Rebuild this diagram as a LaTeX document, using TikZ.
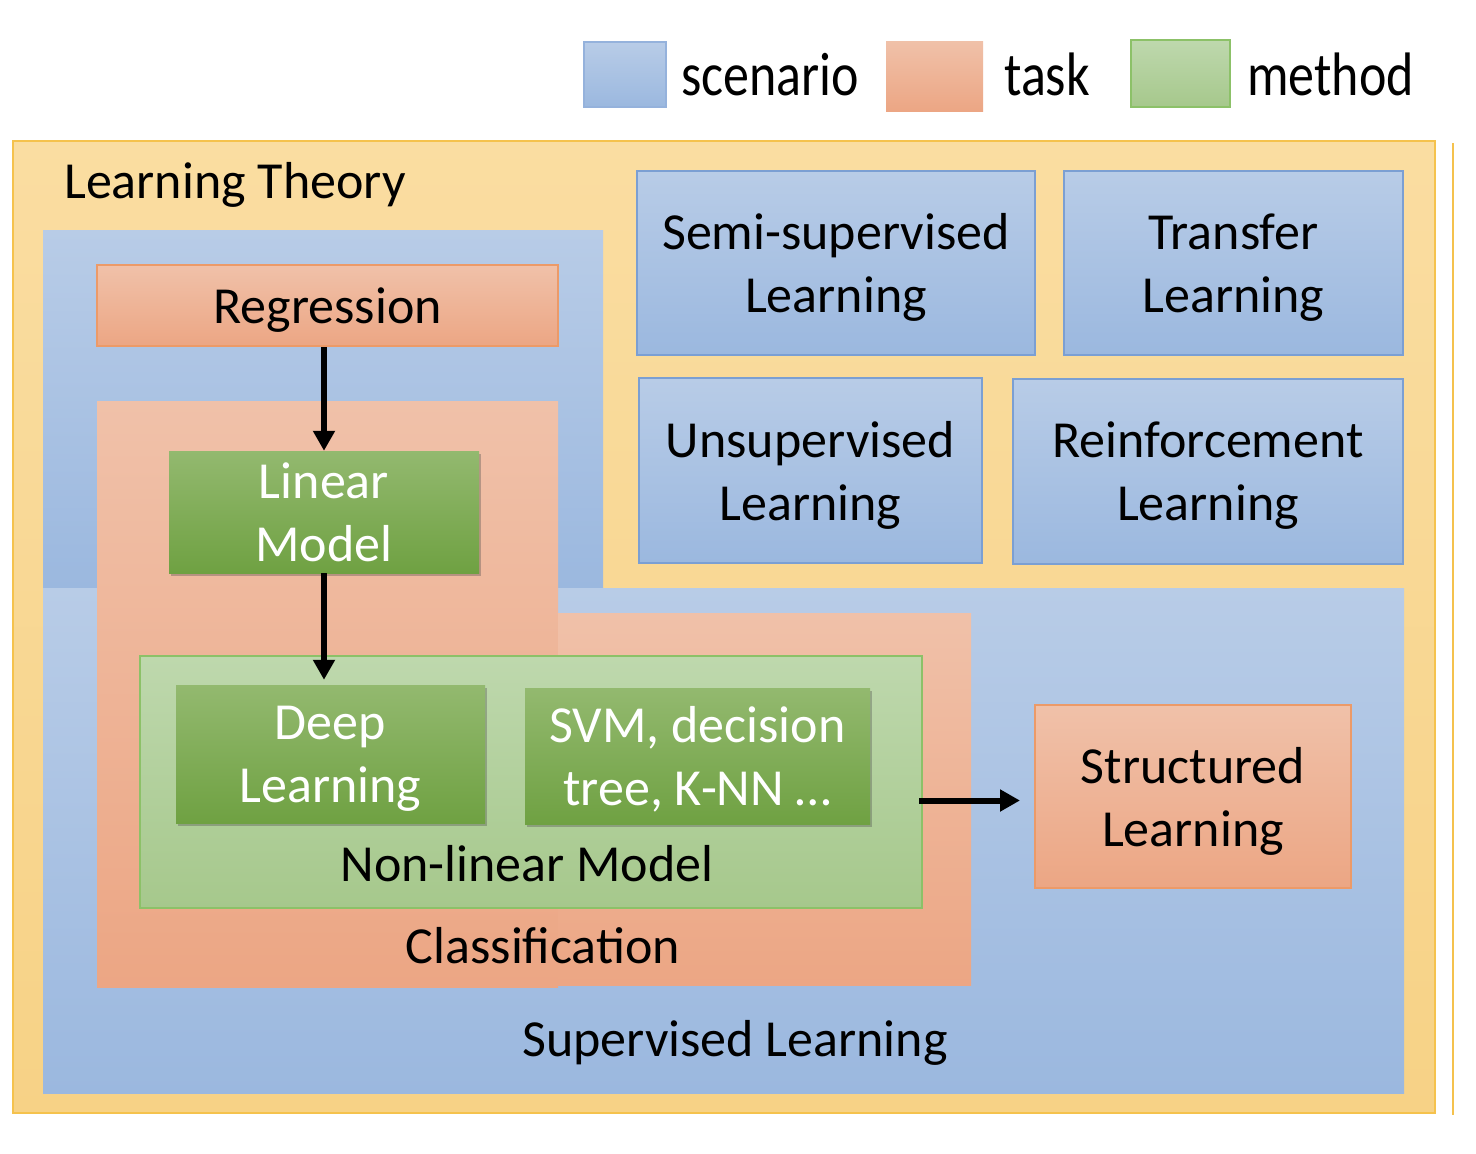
\documentclass[tikz,border=0pt]{standalone}
\usepackage{graphicx}
\usepackage{fontspec}
\setmainfont{Carlito}
\usetikzlibrary{arrows.meta,shadows}
\definecolor{outerT}{HTML}{FADDA1}
\definecolor{outerB}{HTML}{F7D286}
\definecolor{outerD}{HTML}{F5C24D}
\definecolor{blueT}{HTML}{B8CCE7}
\definecolor{blueB}{HTML}{9BB8DF}
\definecolor{blueD}{HTML}{7B9FD3}
\definecolor{taskT}{HTML}{F0C1A9}
\definecolor{taskB}{HTML}{ECA684}
\definecolor{taskD}{HTML}{EC9A68}
\definecolor{methT}{HTML}{93B96F}
\definecolor{methB}{HTML}{6FA142}
\definecolor{nlT}{HTML}{BED8AD}
\definecolor{nlB}{HTML}{A6C88C}
\definecolor{nlD}{HTML}{8CC168}
\begin{document}
\begin{tikzpicture}[x=1pt,y=-1pt,
  txt/.style={font=\fontsize{52}{63}\selectfont, align=center, inner sep=0pt},
  boxtxt/.style={txt, text depth=0pt},
  scenbox/.style={boxtxt, draw=blueD, line width=2pt, top color=blueT, bottom color=blueB},
  taskbox/.style={boxtxt, draw=taskD, line width=2pt, top color=taskT, bottom color=taskB},
  methbox/.style={boxtxt, text=white, top color=methT, bottom color=methB,
     drop shadow={shadow xshift=2pt, shadow yshift=-3pt, opacity=.35, fill=black!70}},
  scenreg/.style={inner sep=0pt, top color=blueT, bottom color=blueB},
  taskreg/.style={inner sep=0pt, top color=taskT, bottom color=taskB},
  arr/.style={line width=6pt, -{Triangle[length=20pt, width=21pt]}},
  legtxt/.style={font=\fontsize{52}{63}\selectfont, inner sep=0pt, anchor=base west}
]
\useasboundingbox (0,0) rectangle (1476,1154);
\fill[white] (0,0) rectangle (1476,1154);

% legend
\node[inner sep=0pt, minimum width=82pt, minimum height=65pt, draw=blueD!80, line width=1.5pt, top color=blueT, bottom color=blueB] (lscen) at (625,74.5) {};
\node[legtxt] (lscent) at (681,95) {\scalebox{1}[1.18]{scenario}};
\node[inner sep=0pt, minimum width=97pt, minimum height=70pt, top color=taskT, bottom color=taskB] (ltask) at (934.5,76) {};
\node[legtxt] (ltaskt) at (1004,95) {\scalebox{1}[1.18]{task}};
\node[inner sep=0pt, minimum width=99pt, minimum height=67pt, draw=nlD, line width=1.5pt, top color=nlT, bottom color=nlB] (lmeth) at (1180.5,73.5) {};
\node[legtxt] (lmetht) at (1247,95) {\scalebox{1}[1.18]{method}};

% outer learning theory region
\node[inner sep=0pt, minimum width=1422pt, minimum height=972pt, draw=outerD, line width=2pt, top color=outerT, bottom color=outerB] (lt) at (724,627) {};
\draw[outerD, line width=1.5pt] (1453,143) -- (1453,1115);
\node[txt, anchor=base west] (ltt) at (64,198) {Learning Theory};

% supervised learning region (two parts)
\node[scenreg, minimum width=560pt, minimum height=358pt] (suptop) at (323,409) {};
\node[scenreg, minimum width=1361pt, minimum height=505pt] (supbot) at (723.5,840.5) {};
\node[txt] (supt) at (735,1043) {Supervised Learning};

% classification region (two parts)
\node[taskreg, minimum width=461pt, minimum height=586pt] (clsl) at (327.5,694) {};
\node[taskreg, minimum width=413pt, minimum height=372pt] (clsr) at (764.5,799) {};
\node[txt] (clst) at (543,946) {Classification};

% non-linear model region
\node[inner sep=0pt, minimum width=782pt, minimum height=252pt, draw=nlD, line width=2pt, top color=nlT, bottom color=nlB] (nl) at (531,782) {};
\node[txt] (nlt) at (527,864) {Non-linear Model};

% scenario boxes
\node[scenbox, minimum width=398pt, minimum height=184pt] (semi) at (836,263) {Semi-supervised\\Learning};
\node[scenbox, minimum width=339pt, minimum height=184pt] (trans) at (1233.5,263) {Transfer\\Learning};
\node[scenbox, minimum width=343pt, minimum height=185pt] (unsup) at (810.5,470.5) {Unsupervised\\Learning};
\node[scenbox, minimum width=390pt, minimum height=185pt] (reinf) at (1208,471.5) {Reinforcement\\Learning};

% task boxes
\node[taskbox, minimum width=461pt, minimum height=81pt] (reg) at (327.5,305.5) {Regression};
\node[taskbox, minimum width=316pt, minimum height=183pt] (st) at (1193,796.5) {Structured\\Learning};

% method boxes
\node[methbox, minimum width=310pt, minimum height=122pt] (lin) at (324,512) {Linear\\Model};
\node[methbox, minimum width=309pt, minimum height=138pt] (deep) at (330.5,754) {Deep\\Learning};
\node[methbox, minimum width=345pt, minimum height=136pt] (svm) at (697.5,756) {SVM, decision\\tree, K-NN \dots};

% arrows
\coordinate (sttip) at ([yshift=-4pt]st.west);
\draw[arr] (lin.north |- reg.south) -- (lin.north);
\draw[arr, shorten >=5pt] (lin.south) -- (lin.south |- deep.north);
\draw[arr, shorten >=14pt, shorten <=-4pt] (nl.east |- sttip) -- (sttip);
\end{tikzpicture}
\end{document}
